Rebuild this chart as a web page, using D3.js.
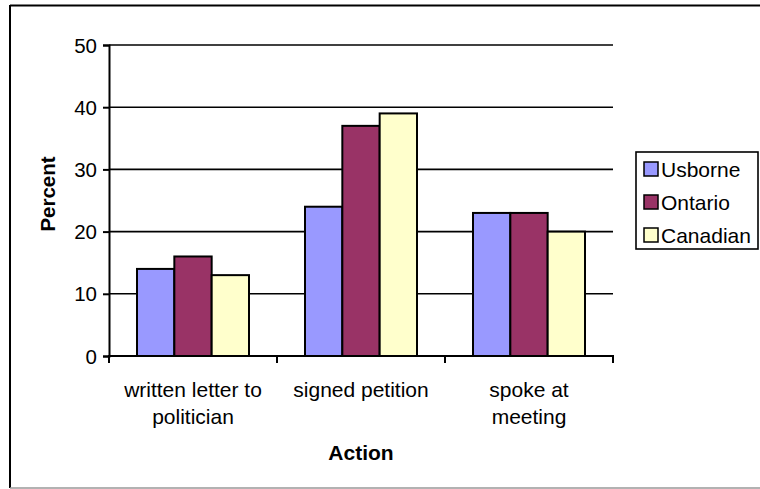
<!DOCTYPE html>
<html>
<head>
<meta charset="utf-8">
<script src="https://cdn.jsdelivr.net/npm/d3@7"></script>
<style>
  html, body { margin: 0; padding: 0; background: #fff; }
  svg { display: block; }
  text { font-family: "Liberation Sans", Arial, sans-serif; fill: #000; }
</style>
</head>
<body>
<svg id="chart" width="760" height="489"></svg>
<script>
const categories = [["written letter to", "politician"], ["signed petition"], ["spoke at", "meeting"]];
const categoryKeys = ["written letter to politician", "signed petition", "spoke at meeting"];
const seriesNames = ["Usborne", "Ontario", "Canadian"];
const usborne = [14, 24, 23];
const ontario = [16, 37, 23];
const canadian = [13, 39, 20];
const seriesColors = ["#9999FF", "#993366", "#FFFFCC"];
const yTicks = [0, 10, 20, 30, 40, 50];

(function () {
const seriesValues = [usborne, ontario, canadian];
const svg = d3.select("#chart");

// outer frame
svg.append("line").attr("x1", 10).attr("y1", 5.5).attr("x2", 760).attr("y2", 5.5)
  .attr("stroke", "#000").attr("stroke-width", 2);
svg.append("line").attr("x1", 10).attr("y1", 5).attr("x2", 10).attr("y2", 488)
  .attr("stroke", "#000").attr("stroke-width", 2);
svg.append("line").attr("x1", 10).attr("y1", 488).attr("x2", 760).attr("y2", 488)
  .attr("stroke", "#999").attr("stroke-width", 1.5);

const pLeft = 109, pRight = 613, pTop = 45, pBottom = 356;

const y = d3.scaleLinear().domain([0, 50]).range([pBottom, pTop]);
const x0 = d3.scaleBand().domain(categoryKeys).range([pLeft, pRight])
  .paddingInner(1/3).paddingOuter(1/6);
const x1 = d3.scaleBand().domain(seriesNames).range([0, x0.bandwidth()]);

// gridlines
svg.append("g").selectAll("line").data(yTicks.filter(d => d > 0)).join("line")
  .attr("x1", pLeft).attr("x2", pRight)
  .attr("y1", d => y(d)).attr("y2", d => y(d))
  .attr("stroke", "#000").attr("stroke-width", 1.6);

// bars
const groups = svg.append("g").selectAll("g").data(categoryKeys).join("g")
  .attr("transform", d => `translate(${x0(d)},0)`);
groups.selectAll("rect")
  .data((d, i) => seriesNames.map((s, j) => ({ s, j, v: seriesValues[j][i] })))
  .join("rect")
  .attr("x", d => x1(d.s))
  .attr("width", x1.bandwidth())
  .attr("y", d => y(d.v))
  .attr("height", d => y(0) - y(d.v))
  .attr("fill", d => seriesColors[d.j])
  .attr("stroke", "#000").attr("stroke-width", 2);

// y axis
const yAxis = d3.axisLeft(y).tickValues(yTicks).tickSize(6).tickPadding(6);
const yg = svg.append("g").attr("transform", `translate(${pLeft},0)`).call(yAxis);
yg.select(".domain").attr("stroke", "#000").attr("stroke-width", 2);
yg.selectAll(".tick line").attr("stroke", "#000").attr("stroke-width", 2);
yg.selectAll(".tick text").attr("font-size", 20.5).attr("font-family", "Liberation Sans, Arial, sans-serif")
  .attr("fill", "#000").attr("dy", "0.35em");

// x axis line and boundary ticks
svg.append("line").attr("x1", pLeft - 1).attr("x2", pRight + 1).attr("y1", pBottom).attr("y2", pBottom)
  .attr("stroke", "#000").attr("stroke-width", 2);
const edges = [pLeft].concat(categoryKeys.map(k => x0(k) + x0.bandwidth() + (x0.step() - x0.bandwidth()) / 2));
svg.append("g").selectAll("line").data(edges).join("line")
  .attr("x1", d => d).attr("x2", d => d).attr("y1", pBottom).attr("y2", pBottom + 7)
  .attr("stroke", "#000").attr("stroke-width", 2);

// category labels
const catG = svg.append("g").selectAll("text").data(categoryKeys).join("text")
  .attr("text-anchor", "middle")
  .attr("font-size", 21);
catG.each(function(d, i) {
  const t = d3.select(this);
  categories[i].forEach((line, k) => {
    t.append("tspan").attr("x", x0(d) + x0.bandwidth() / 2).attr("y", 397 + k * 27).text(line);
  });
});

// axis titles
svg.append("text").attr("x", (pLeft + pRight) / 2).attr("y", 460)
  .attr("text-anchor", "middle").attr("font-weight", "bold").attr("font-size", 21).text("Action");
svg.append("text").attr("transform", "translate(55,194) rotate(-90)")
  .attr("text-anchor", "middle").attr("font-weight", "bold").attr("font-size", 20.5).text("Percent");

// legend
const lg = svg.append("g");
lg.append("rect").attr("x", 636).attr("y", 152).attr("width", 122).attr("height", 97)
  .attr("fill", "#fff").attr("stroke", "#000").attr("stroke-width", 1.6);
const rowY = d3.scalePoint().domain(seriesNames).range([169, 235]);
const items = lg.selectAll("g.item").data(seriesNames).join("g").attr("class", "item");
items.append("rect")
  .attr("x", 644).attr("y", d => rowY(d) - 7).attr("width", 14).attr("height", 14)
  .attr("fill", (d, i) => seriesColors[i]).attr("stroke", "#000").attr("stroke-width", 1.5);
items.append("text")
  .attr("x", 661).attr("y", d => rowY(d)).attr("dy", "0.36em")
  .attr("font-size", 21).text(d => d);
})();
</script>
</body>
</html>
